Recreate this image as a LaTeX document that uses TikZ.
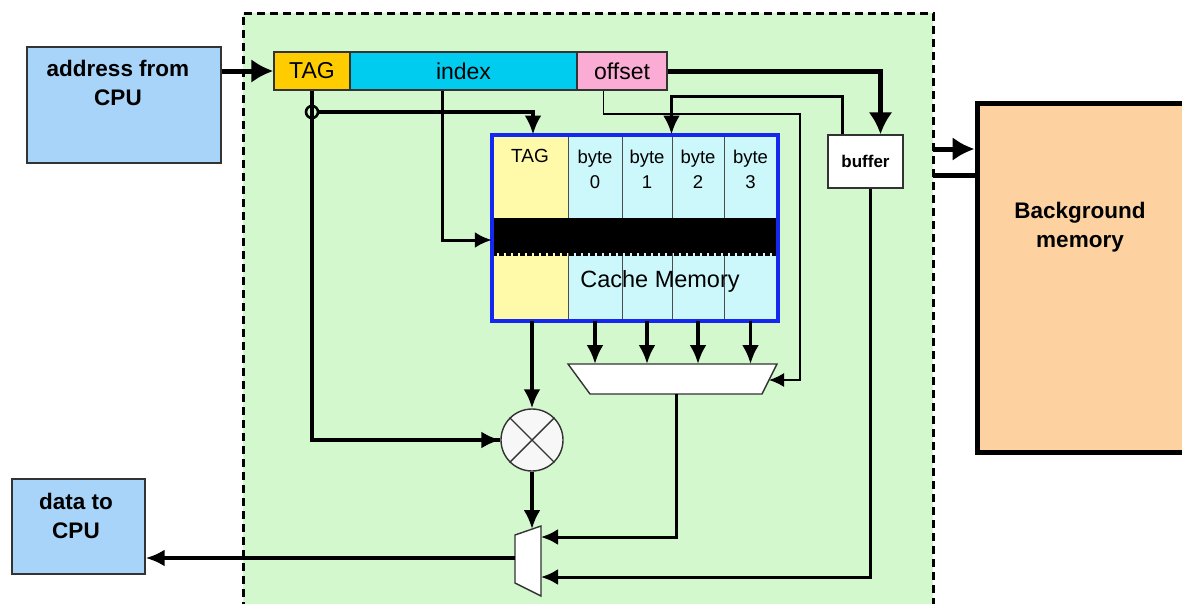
\documentclass[tikz,border=0pt]{standalone}
\usepackage{fontspec}
\setmainfont{Liberation Sans}
\usetikzlibrary{arrows.meta,calc}

\definecolor{regiongreen}{RGB}{212,248,206}
\definecolor{cpublue}{RGB}{168,212,250}
\definecolor{taggold}{RGB}{255,204,0}
\definecolor{indexcyan}{RGB}{0,204,240}
\definecolor{offsetpink}{RGB}{250,172,212}
\definecolor{tagyellow}{RGB}{255,250,170}
\definecolor{bytecyan}{RGB}{204,248,252}
\definecolor{bgpeach}{RGB}{253,210,160}
\definecolor{cacheblue}{RGB}{20,40,240}

\tikzset{
  box/.style={draw=black!80, line width=1.4pt, inner sep=0pt, anchor=center},
  field/.style={box, minimum height=38pt, font=\fontsize{23}{25}\selectfont},
  col/.style={draw=black!70, line width=1pt, inner sep=0pt, minimum height=185pt},
  lbl/.style={align=center, inner sep=0pt},
  bigtext/.style={lbl, font=\bfseries\fontsize{22.5}{29}\selectfont},
  bus/.style={line width=5pt, -{Latex[length=22pt,width=24pt]}},
  wire/.style={line width=3.5pt, -{Latex[length=19pt,width=17pt]}},
  midwire/.style={line width=3pt, -{Latex[length=17pt,width=16pt]}},
  thinarrow/.style={line width=1.6pt, -{Latex[length=15pt,width=14pt]}},
}

\begin{document}
\begin{tikzpicture}[x=1pt,y=-1pt]
\useasboundingbox (0,0) rectangle (1182,603);

% cache controller region
\fill[regiongreen] (243,13) rectangle (933,610);
\draw[line width=3pt, dash pattern=on 8pt off 5pt] (243,610) -- (243,13) -- (933,13) -- (933,610);

% external blocks
\node[box, fill=cpublue, minimum width=194pt, minimum height=116pt] (addr) at (124,105) {};
\node[bigtext] (addrtxt) at (118,83) {address from\\CPU};
\node[box, fill=cpublue, minimum width=133pt, minimum height=95pt] (data) at (78.5,526.5) {};
\node[bigtext] (datatxt) at (76,516) {data to\\CPU};
\node[draw=black, line width=5pt, fill=bgpeach, minimum width=230pt, minimum height=349pt, inner sep=0pt] (bg) at (1092,277.5) {};
\node[bigtext] (bgtxt) at (1080,227) {Background\\memory};

% address fields
\node[field, fill=taggold, minimum width=76pt] (tag) at (312,71) {TAG};
\node[field, fill=indexcyan, minimum width=227pt] (index) at (463.5,71) {index};
\node[field, fill=offsetpink, minimum width=90pt] (offset) at (622,71) {offset};

% cache memory array
\node[col, fill=tagyellow, minimum width=76pt] (tagcol) at (530,227.5) {};
\node[col, fill=bytecyan, minimum width=54pt] (b0) at (595,227.5) {};
\node[col, fill=bytecyan, minimum width=50pt] (b1) at (647,227.5) {};
\node[col, fill=bytecyan, minimum width=52pt] (b2) at (698,227.5) {};
\node[col, fill=bytecyan, minimum width=53pt] (b3) at (750.5,227.5) {};
\node[lbl, font=\fontsize{19}{21}\selectfont] (tagcoltxt) at (530,156) {TAG};
\foreach \c/\n in {b0/0,b1/1,b2/2,b3/3}
  \node[lbl, font=\fontsize{18.5}{25}\selectfont] (\c txt) at ($(\c.north)+(0,35)$) {byte\\\n};
\node[fill=black, minimum width=285pt, minimum height=35pt, inner sep=0pt] (row) at (634.5,235.5) {};
\draw[line width=3pt, dash pattern=on 5pt off 2pt] (row.south west) ++(0,1) -- ($(row.south east)+(0,1)$);
\node[lbl, font=\fontsize{23.5}{25}\selectfont] (cachetxt) at (660,281) {Cache Memory};
\draw[cacheblue, line width=4pt] (tagcol.north west) rectangle (b3.south east);

% buffer
\node[box, fill=white, minimum width=75pt, minimum height=53pt, font=\bfseries\fontsize{17}{19}\selectfont] (buffer) at (865.5,161.5) {buffer};

% byte multiplexer
\coordinate (m4tl) at (568,364);
\coordinate (m4tr) at (777,364);
\coordinate (m4br) at (762,394);
\coordinate (m4bl) at (590,394);
\draw[black!80, line width=1.4pt, fill=white] (m4tl) -- (m4tr) -- (m4br) -- (m4bl) -- cycle;
\coordinate (m4sel) at (769,380);
\coordinate (m4out) at (676,394);

% tag comparator
\node[circle, draw=black!80, line width=1.4pt, fill=black!3, minimum size=62pt, inner sep=0pt] (cmp) at (532,440) {};
\draw[black!80, line width=1.4pt] (cmp.north west) -- (cmp.south east) (cmp.north east) -- (cmp.south west);

% output multiplexer
\coordinate (m2tl) at (515,535);
\coordinate (m2tr) at (541,526);
\coordinate (m2br) at (541,596);
\coordinate (m2bl) at (515,583);
\draw[black!80, line width=1.4pt, fill=white] (m2tl) -- (m2tr) -- (m2br) -- (m2bl) -- cycle;
\coordinate (m2top) at (532,529);
\coordinate (m2a) at (541,537);
\coordinate (m2b) at (541,577);
\coordinate (m2out) at (515,558);

% connectors
\draw[bus] (addr.east |- tag.west) -- (tag.west);
\draw[bus] (offset.east) -| ($(buffer.north)+(15,0)$);
\draw[wire] ($(buffer.north west)+(15,0)$) -- ++(0,-38) -| (b2.north west);
\draw[thinarrow] ($(offset.south west)+(27,0)$) -- ++(0,23) -| (800,380) -- (m4sel);

\draw[line width=3.5pt] (tag.south) |- (cmp.west);
\draw[wire] ($(tag.south |- cmp.west)+(150,0)$) -- (cmp.west);
\node[circle, draw=black, line width=2.6pt, minimum size=12pt, inner sep=0pt] (junc) at (312,112) {};
\draw[wire] (junc.east) -| ($(tagcol.north)+(3,0)$);
\draw[midwire] ($(index.south west)+(93,0)$) |- (row.west |- 0,240);

\draw[wire] (cmp.north |- tagcol.south) -- (cmp.north);
\foreach \c in {b0,b1,b2,b3}
  \draw[wire] (\c.south) -- (\c.south |- m4tl);
\draw[wire] (cmp.south) -- (m2top);
\draw[midwire] (m4out) |- (m2a);
\draw[midwire] ($(buffer.south)+(5,0)$) |- (m2b);
\draw[wire] (m2out) -- (data.east |- m2out);

\coordinate (memin) at (933,149);
\coordinate (memout) at (933,175);
\draw[bus] (memin) -- (bg.west |- memin);
\draw[line width=5pt] (memout) -- (bg.west |- memout);
\end{tikzpicture}
\end{document}
